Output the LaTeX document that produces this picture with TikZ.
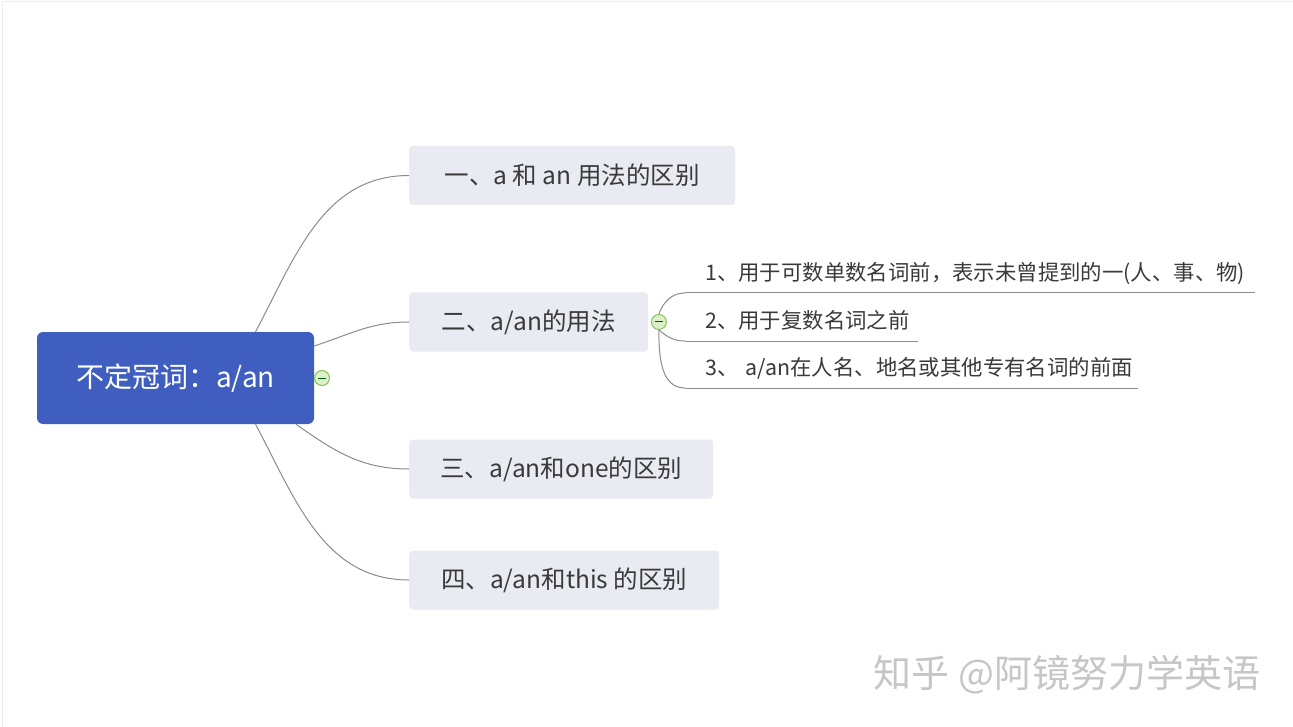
\documentclass[tikz,border=0pt]{standalone}
\usepackage{fontspec}
\setmainfont{Noto Sans CJK SC}
\usepackage{xcolor}
\definecolor{rootBlue}{HTML}{3F5EBF}
\definecolor{branchBg}{HTML}{E9EAF2}
\definecolor{lineGray}{HTML}{8C8C8C}
\definecolor{textDark}{HTML}{3A3A3A}
\definecolor{dotGreen}{HTML}{86C15A}
\definecolor{dotFill}{HTML}{DDEFCB}
\definecolor{markGray}{HTML}{C6C6C6}
\usepackage{tikz}
\usetikzlibrary{positioning,calc}
\tikzset{%
  rootBox/.style={%
    rectangle,
    rounded corners=6pt,
    fill=rootBlue,
    text=white,
    minimum width=277pt,
    minimum height=92pt,
    font=\fontsize{28pt}{33pt}\selectfont
  },
  branchBox/.style={%
    rectangle,
    rounded corners=4pt,
    fill=branchBg,
    text=textDark,
    anchor=west,
    inner xsep=0pt,
    minimum height=59pt,
    font=\fontsize{24.5pt}{29pt}\selectfont
  },
  subItem/.style={%
    anchor=south west,
    inner xsep=0pt,
    inner ysep=8pt,
    text depth=4pt,
    align=left,
    text=textDark,
    execute at begin node=\hspace*{20pt},
    font=\fontsize{21.4pt}{25pt}\selectfont
  },
  linkLine/.style={%
    draw=lineGray,
    line width=1pt
  },
  collapseDot/.style={%
    circle,
    draw=dotGreen,
    fill=dotFill,
    line width=1pt,
    minimum size=15pt,
    inner sep=0pt,
    path picture={\draw[green!35!black, line width=1pt]
      ([xshift=-4pt]path picture bounding box.center) --
      ([xshift=4pt]path picture bounding box.center);}
  },
  watermark/.style={%
    text=markGray,
    font=\fontsize{38pt}{44pt}\selectfont
  }
}

\begin{document}
\begin{tikzpicture}
            \path[fill=white] (0,0) rectangle (1293pt,-727pt);
            \useasboundingbox (0,0) rectangle (1293pt,-727pt);
            \draw[gray!15] (2pt,-727pt) -- (2pt,-1pt) -- (1293pt,-1pt);

            % root and the four branches
            \node[rootBox] (root) at (175.5pt,-378pt) {不定冠词：a/an};
            \node[collapseDot] (rootDot) at (322pt,-378pt) {};

            \node[branchBox, minimum width=326pt] (aanDiff) at (409pt,-175.5pt) {一、a 和 an 用法的区别};
            \node[branchBox, minimum width=239pt] (aanUse) at (409pt,-322pt) {二、a/an的用法};
            \node[branchBox, minimum width=304pt] (aanOne) at (409pt,-469pt) {三、a/an和one的区别};
            \node[branchBox, minimum width=310pt] (aanThis) at (409pt,-580pt) {四、a/an和this 的区别};

            \draw[linkLine] (root.30) to[out=62, in=180] (aanDiff.west);
            \draw[linkLine] (root.13) to[out=18, in=180] (aanUse.west);
            \draw[linkLine] (root.-21) to[out=-35, in=180] (aanOne.west);
            \draw[linkLine] (root.-30) to[out=-62, in=180] (aanThis.west);

            % usages of a/an
            \node[subItem, text width=570pt] (singular) at (685pt,-293pt) {1、用于可数单数名词前，表示未曾提到的一(人、事、物)};
            \node[subItem, text width=233pt] (plural) at (685pt,-341pt) {2、用于复数名词之前};
            \node[subItem, text width=453pt] (proper) at (685pt,-388pt) {3、 a/an在人名、地名或其他专有名词的前面};

            \draw[linkLine] (singular.south west) -- (singular.south east);
            \draw[linkLine] (plural.south west) -- (plural.south east);
            \draw[linkLine] (proper.south west) -- (proper.south east);

            \node[collapseDot, right=2.5pt of aanUse] (useDot) {};
            \draw[linkLine] (useDot.north) to[out=70, in=180] (singular.south west);
            \draw[linkLine] (useDot.south) to[out=-40, in=180] (plural.south west);
            \draw[linkLine] (useDot.south) to[out=-90, in=180] (proper.south west);

            \node[watermark] (zhihu) at (1067pt,-675pt) {知乎 @阿镜努力学英语};

        \end{tikzpicture}
\end{document}
